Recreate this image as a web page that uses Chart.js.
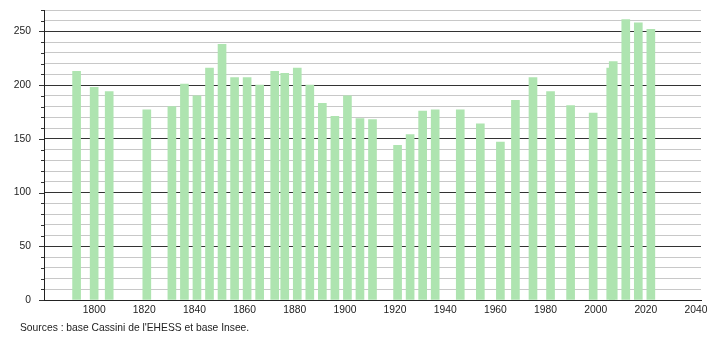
<!DOCTYPE html>
<html>
<head>
<meta charset="utf-8">
<script src="https://cdn.jsdelivr.net/npm/chart.js@4"></script>
<style>
html,body{margin:0;padding:0;background:#fff;}
#wrap{position:relative;width:710px;height:340px;}
#src{position:absolute;left:20px;top:322px;font:10.3px "Liberation Sans",Arial,sans-serif;color:#222;}
</style>
</head>
<body>
<div id="wrap">
<canvas id="c" width="710" height="340"></canvas>
<div id="src">Sources : base Cassini de l'EHESS et base Insee.</div>
</div>
<script>
const years = [1793,1800,1806,1821,1831,1836,1841,1846,1851,1856,1861,1866,1872,1876,1881,1886,1891,1896,1901,1906,1911,1921,1926,1931,1936,1946,1954,1962,1968,1975,1982,1990,1999,2006,2007,2012,2017,2022];
const population = [213,198,194,177,180,201,190,216,238,207,207,200,213,211,216,200,183,171,190,169,168,144,154,176,177,177,164,147,186,207,194,181,174,216,222,261,258,252];
const xTicks = [1800,1820,1840,1860,1880,1900,1920,1940,1960,1980,2000,2020,2040];
const yTicks = [0,10,20,30,40,50,60,70,80,90,100,110,120,130,140,150,160,170,180,190,200,210,220,230,240,250,260,270];
const yLabelEvery = 50;

const font = {family:'"Liberation Sans", Arial, sans-serif', size:10.3};

const tickPlugin = {
  id:'yticks',
  afterDraw(chart){
    const y = chart.scales.y, ctx = chart.ctx;
    const x0 = chart.chartArea.left;
    ctx.save();
    ctx.strokeStyle = '#333';
    ctx.lineWidth = 1;
    y.ticks.forEach(t=>{
      const py = Math.round(y.getPixelForValue(t.value)) + 0.5;
      const len = (t.value % yLabelEvery === 0) ? 5 : 3;
      ctx.beginPath();
      ctx.moveTo(x0 - len, py);
      ctx.lineTo(x0, py);
      ctx.stroke();
    });
    ctx.restore();
  }
};

new Chart(document.getElementById('c'), {
  type:'bar',
  data:{
    datasets:[{
      data: years.map((y,i)=>({x:y, y:population[i]})),
      backgroundColor:'#aee4b0',
      borderWidth:0,
      barThickness:8
    }]
  },
  options:{
    responsive:false,
    animation:false,
    events:[],
    layout:{padding:{top:10,right:9,bottom:0,left:0}},
    plugins:{legend:{display:false},tooltip:{enabled:false}},
    scales:{
      x:{
        type:'linear',
        min:1780, max:2042,
        offset:false,
        afterBuildTicks(s){ s.ticks = xTicks.map(v=>({value:v})); },
        afterFit(s){ s.height = 40; s.paddingLeft = 0; s.paddingRight = 0; },
        grid:{display:false, drawTicks:false},
        border:{display:true,color:'#222',width:1},
        ticks:{font, color:'#222', padding:4, maxRotation:0, autoSkip:false, callback:v=>String(v)}
      },
      y:{
        min:0, max:270,
        afterBuildTicks(s){ s.ticks = yTicks.map(v=>({value:v})); },
        afterFit(s){ s.width = 44; s.paddingTop = 0; s.paddingBottom = 0; },
        grid:{
          drawTicks:false,
          color:ctx=> (ctx.tick && ctx.tick.value % yLabelEvery === 0) ? '#333' : '#c8c8c8',
          lineWidth:1
        },
        border:{display:true,color:'#222',width:1},
        ticks:{font, color:'#222', padding:13, autoSkip:false,
          callback:v=> (v % yLabelEvery === 0) ? String(v) : ''}
      }
    }
  },
  plugins:[tickPlugin]
});
</script>
</body>
</html>
